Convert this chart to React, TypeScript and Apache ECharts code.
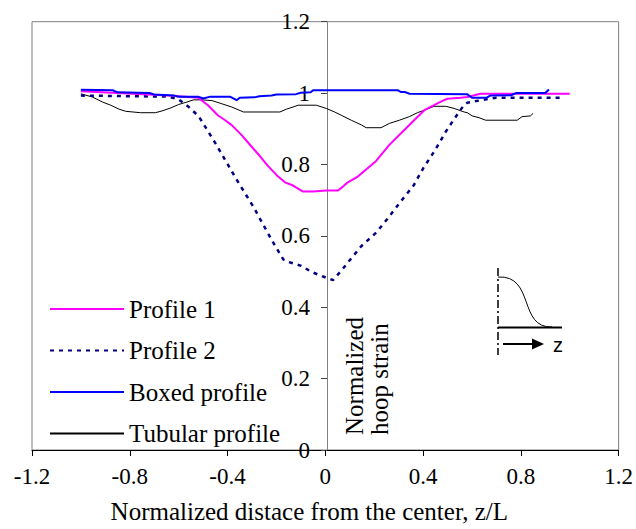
import React, { useEffect, useRef } from "react";
import * as echarts from "echarts";

const FONT = "'Liberation Serif', 'Times New Roman', serif";

const seriesNames = ["Profile 1", "Profile 2", "Boxed profile", "Tubular profile"];

const profile1: [number, number][] = [
  [-1.0, 1.005], [-0.64, 0.993], [-0.52, 0.987], [-0.48, 0.966], [-0.44, 0.938],
  [-0.41, 0.924], [-0.384, 0.911], [-0.343, 0.883], [-0.303, 0.851], [-0.267, 0.823],
  [-0.235, 0.796], [-0.193, 0.766], [-0.165, 0.75], [-0.132, 0.741], [-0.091, 0.724],
  [-0.05, 0.724], [0.004, 0.727], [0.052, 0.727], [0.072, 0.738], [0.092, 0.75],
  [0.133, 0.766], [0.167, 0.786], [0.208, 0.81], [0.262, 0.855], [0.35, 0.915],
  [0.405, 0.952], [0.445, 0.966], [0.479, 0.978], [0.5, 0.984], [0.553, 0.987],
  [0.581, 0.989], [0.635, 0.998], [1.0, 0.998],
];

const profile2: [number, number][] = [
  [-1.0, 0.993], [-0.64, 0.99], [-0.6, 0.982], [-0.56, 0.962], [-0.518, 0.935],
  [-0.45, 0.86], [-0.365, 0.76], [-0.294, 0.681], [-0.22, 0.589], [-0.2, 0.566],
  [-0.172, 0.534], [-0.152, 0.527], [-0.098, 0.516], [-0.057, 0.499], [-0.009, 0.486],
  [0.031, 0.476], [0.065, 0.502], [0.092, 0.525], [0.147, 0.571], [0.208, 0.609],
  [0.258, 0.651], [0.307, 0.695], [0.361, 0.741], [0.402, 0.791], [0.448, 0.839],
  [0.493, 0.892], [0.52, 0.92], [0.547, 0.947], [0.568, 0.967], [0.581, 0.973],
  [0.629, 0.979], [0.669, 0.984], [0.7, 0.987], [0.968, 0.987],
];

const boxed: [number, number][] = [
  [-1.0, 1.009], [-0.87, 1.008], [-0.85, 1.002], [-0.72, 1.0], [-0.7, 0.996],
  [-0.62, 0.993], [-0.6, 0.99], [-0.52, 0.99], [-0.5, 0.985], [-0.47, 0.99],
  [-0.39, 0.99], [-0.363, 0.98], [-0.35, 0.987], [-0.29, 0.988], [-0.27, 0.991],
  [-0.22, 0.993], [-0.2, 0.996], [-0.12, 0.997], [-0.1, 1.001], [-0.06, 1.002],
  [-0.05, 1.008], [0.296, 1.008], [0.31, 1.003], [0.325, 1.003], [0.345, 0.998],
  [0.58, 0.997], [0.6, 0.987], [0.66, 0.987], [0.675, 0.993], [0.76, 0.994],
  [0.78, 1.0], [0.9, 1.0], [0.915, 1.01],
];

const tubular: [number, number][] = [
  [-1.0, 0.998], [-0.953, 0.989], [-0.912, 0.975], [-0.878, 0.966], [-0.844, 0.955],
  [-0.817, 0.949], [-0.756, 0.945], [-0.695, 0.945], [-0.668, 0.95], [-0.634, 0.958],
  [-0.6, 0.968], [-0.566, 0.975], [-0.539, 0.981], [-0.505, 0.981], [-0.464, 0.979],
  [-0.423, 0.97], [-0.383, 0.961], [-0.335, 0.947], [-0.186, 0.947], [-0.159, 0.955],
  [-0.132, 0.961], [-0.111, 0.966], [-0.037, 0.966], [0.004, 0.957], [0.038, 0.947],
  [0.065, 0.938], [0.106, 0.924], [0.147, 0.911], [0.167, 0.903], [0.228, 0.903],
  [0.262, 0.915], [0.303, 0.924], [0.344, 0.934], [0.377, 0.945], [0.405, 0.952],
  [0.445, 0.963], [0.493, 0.963], [0.527, 0.957], [0.568, 0.947], [0.581, 0.945],
  [0.601, 0.936], [0.629, 0.931], [0.656, 0.924], [0.785, 0.924], [0.805, 0.934],
  [0.839, 0.936], [0.85, 0.943],
];

const xRange = { min: -1.2, max: 1.2, interval: 0.4 };
const yRange = { min: 0, max: 1.2, interval: 0.2 };

const GRID = { left: 32, right: 14, top: 21.7, bottom: 72 };
const CHART_W = 636;

export default function App() {
  const ref = useRef<HTMLDivElement>(null);
  useEffect(() => {
    if (!ref.current) return;
    const chart = echarts.init(ref.current, undefined, { renderer: "svg" });
    const plotW = CHART_W - GRID.left - GRID.right;
    const zeroOffset = (plotW * (0 - xRange.min)) / (xRange.max - xRange.min);
    chart.setOption({
      animation: false,
      backgroundColor: "#fff",
      textStyle: { fontFamily: FONT, color: "#000" },
      grid: {
        ...GRID,
        show: true, borderColor: "#808080", borderWidth: 1, containLabel: false,
      },
      legend: {
        orient: "vertical", left: 49, top: 294, padding: 0,
        itemWidth: 74, itemHeight: 14, itemGap: 11.5,
        selectedMode: false,
        itemStyle: { opacity: 0 },
        data: seriesNames,
        textStyle: { fontFamily: FONT, fontSize: 25, lineHeight: 30, color: "#000" },
      },
      xAxis: {
        type: "value", min: xRange.min, max: xRange.max, interval: xRange.interval,
        name: "Normalized distace from the center, z/L",
        nameLocation: "middle", nameGap: 49,
        nameTextStyle: { fontFamily: FONT, fontSize: 25, color: "#000", padding: [0, 32, 0, 0] },
        axisLine: { onZero: false, lineStyle: { color: "#000", width: 1 } },
        axisTick: { show: true, inside: false, length: 6, lineStyle: { color: "#000" } },
        axisLabel: { fontFamily: FONT, fontSize: 23, color: "#000", margin: 15 },
        splitLine: { show: false },
      },
      yAxis: {
        type: "value", min: yRange.min, max: yRange.max, interval: yRange.interval,
        position: "left", offset: -zeroOffset,
        axisLine: { show: true, onZero: false, lineStyle: { color: "#808080", width: 1 } },
        axisTick: { show: true, inside: false, length: 6, lineStyle: { color: "#444" } },
        axisLabel: { fontFamily: FONT, fontSize: 23, color: "#000", margin: 17 },
        splitLine: { show: false },
      },
      series: [
        {
          name: seriesNames[3], type: "line", data: tubular, symbol: "none",
          lineStyle: { color: "#000", width: 1 }, itemStyle: { color: "#000" },
        },
        {
          name: seriesNames[1], type: "line", data: profile2, symbol: "none",
          lineStyle: { color: "#000080", width: 2.5, type: [4, 5] }, itemStyle: { color: "#000080" },
        },
        {
          name: seriesNames[0], type: "line", data: profile1, symbol: "none",
          lineStyle: { color: "#FF00FF", width: 2 }, itemStyle: { color: "#FF00FF" },
        },
        {
          name: seriesNames[2], type: "line", data: boxed, symbol: "none",
          lineStyle: { color: "#0000FF", width: 2 }, itemStyle: { color: "#0000FF" },
        },
      ],
      graphic: [
        {
          type: "text", x: 366.5, y: 435, rotation: Math.PI / 2,
          style: {
            text: "Normalized\nhoop strain", fontFamily: FONT, fontSize: 25, lineHeight: 25,
            fill: "#000", textAlign: "left", textVerticalAlign: "middle",
          },
        },
        {
          type: "line", shape: { x1: 498, y1: 268, x2: 498, y2: 355 },
          style: { stroke: "#000", lineWidth: 1.5, lineDash: [8, 3, 2, 3] },
        },
        {
          type: "bezierCurve",
          shape: { x1: 498, y1: 277, cpx1: 535, cpy1: 275, cpx2: 518, cpy2: 328, x2: 552, y2: 327 },
          style: { stroke: "#000", lineWidth: 1, fill: null },
        },
        {
          type: "line", shape: { x1: 498, y1: 327.5, x2: 562, y2: 327.5 },
          style: { stroke: "#000", lineWidth: 2 },
        },
        {
          type: "line", shape: { x1: 503, y1: 344, x2: 533, y2: 344 },
          style: { stroke: "#000", lineWidth: 2 },
        },
        {
          type: "polygon", shape: { points: [[532, 338.5], [544, 344], [532, 349.5]] },
          style: { fill: "#000" },
        },
        {
          type: "text", x: 558, y: 345,
          style: {
            text: "z", fontFamily: "'Liberation Sans', Arial, sans-serif", fontSize: 20,
            fill: "#000", textAlign: "center", textVerticalAlign: "middle",
          },
        },
      ],
    });
    return () => chart.dispose();
  }, []);
  return (
    <div
      ref={ref}
      style={{ position: "fixed", left: 0, top: 0, width: 636, height: 529 }}
    />
  );
}
